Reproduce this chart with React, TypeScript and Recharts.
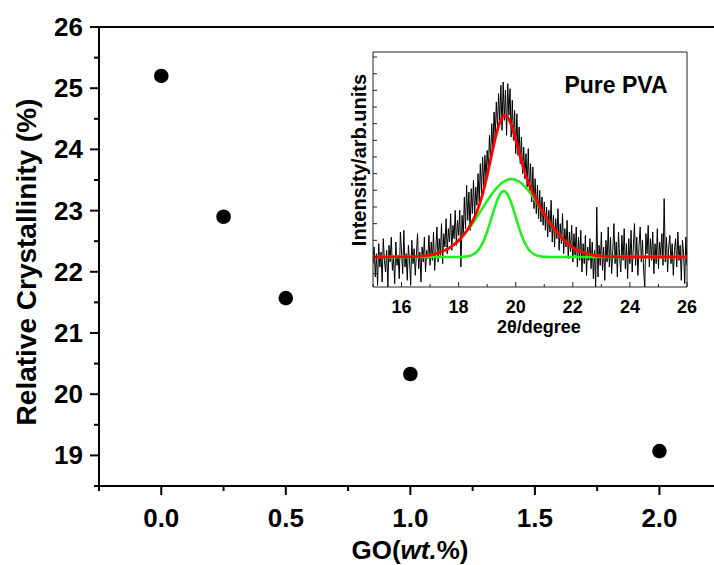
import React from "react";
import {
  ScatterChart,
  Scatter,
  LineChart,
  Line,
  XAxis,
  YAxis,
  ReferenceLine,
} from "recharts";

const FONT = "'Liberation Sans', Arial, Helvetica, sans-serif";

// main plot: relative crystallinity vs GO loading
const goContent = [0, 0.25, 0.5, 1.0, 2.0];
const relCrystallinity = [25.2, 22.9, 21.57, 20.33, 19.07];

const mainXTicks = [-0.25, 0, 0.25, 0.5, 0.75, 1, 1.25, 1.5, 1.75, 2, 2.25];
const mainYTicks = [
  18.5, 19, 19.5, 20, 20.5, 21, 21.5, 22, 22.5, 23, 23.5, 24, 24.5, 25, 25.5, 26,
];

// inset: XRD pattern of pure PVA with peak fit
const insetXTicks = [15, 16, 17, 18, 19, 20, 21, 22, 23, 24, 25, 26];
const insetYTicks = [-100, 0, 100, 200, 300, 400, 500, 600, 700, 800, 900, 1000, 1100, 1200];

const fitTheta = [
  15, 15.5, 16, 16.2, 16.4, 16.6, 16.8, 17, 17.2, 17.4, 17.6, 17.8, 18, 18.2, 18.4,
  18.6, 18.7, 18.8, 18.9, 19, 19.1, 19.2, 19.3, 19.4, 19.5, 19.6, 19.7, 19.8, 19.9,
  20, 20.1, 20.2, 20.3, 20.4, 20.5, 20.6, 20.8, 21, 21.2, 21.4, 21.6, 21.8, 22,
  22.2, 22.4, 22.6, 22.8, 23, 23.2, 23.4, 23.6, 24, 25, 26,
];
const fitBroad = [
  0, 0, 1, 1, 2, 4, 7, 12, 19, 31, 47, 69, 99, 136, 180,
  230, 256, 283, 310, 337, 362, 386, 407, 426, 442, 454, 462, 467, 467,
  462, 454, 442, 426, 407, 386, 362, 310, 256, 204, 157, 117, 83, 57,
  38, 25, 15, 9, 5, 3, 2, 1, 0, 0, 0,
];
const fitNarrow = [
  0, 0, 0, 0, 0, 0, 0, 0, 0, 0, 0, 0, 0, 2, 8,
  26, 44, 70, 107, 152, 206, 262, 316, 360, 388, 395, 379, 344, 296,
  240, 184, 133, 91, 59, 36, 21, 6, 1, 0, 0, 0, 0, 0,
  0, 0, 0, 0, 0, 0, 0, 0, 0, 0, 0,
];
const fitTotal = [
  0, 0, 1, 1, 2, 4, 7, 12, 19, 31, 47, 69, 99, 138, 188,
  256, 300, 353, 417, 489, 568, 648, 723, 786, 830, 849, 841, 811, 763,
  702, 638, 575, 517, 466, 422, 383, 316, 257, 204, 157, 117, 83, 57,
  38, 25, 15, 9, 5, 3, 2, 1, 0, 0, 0,
];

const XRD_START = 15;
const XRD_STEP = 0.04;
const xrdCounts = [
  // 15.00 - 15.96
  -40, 60, -120, 20, -170, 80, -60, 30, -150, 110, -20, -90, 40, -180, 70, -30, 120, -80, -10, -160, 90, -50, 10, -130, 150,
  // 16.00 - 16.96
  30, -100, 160, -60, 20, -140, 70, -20, -170, 100, -40, 50, -110, 10, 140, -70, 30, -150, 60, -30, 120, -90, 40, -10, 130,
  // 17.00 - 17.96
  -50, 90, -20, 150, -80, 40, 180, -30, 110, 10, 200, -40, 140, 60, 230, 20, 170, 90, 260, 40, 190, 110, 280, 70, 220,
  // 18.00 - 18.96
  130, 280, -60, 250, 120, 360, 170, 430, 220, 390, 160, 410, 260, 460, 240, 420, 310, 500, 330, 560, 380, 600, 420, 610, 470,
  // 19.00 - 19.96
  640, 520, 730, 590, 800, 640, 870, 720, 930, 780, 980, 810, 1030, 760, 1050, 820, 1000, 730, 1040, 850, 1010, 720, 940, 700, 880,
  // 20.00 - 20.96
  620, 860, 610, 780, 560, 720, 500, 660, 470, 620, 420, 650, 400, 560, 330, 540, 290, 470, 260, 430, 230, 400, 210, 360, 190,
  // 21.00 - 21.96
  330, 160, 300, 120, 280, 150, 340, 90, 250, 60, 230, 110, 290, 40, 200, 80, 260, 20, 170, 60, 220, -10, 150, 30, 190,
  // 22.00 - 22.96
  -30, 140, 10, 180, -60, 120, -20, 160, -90, 80, -40, 130, -110, 60, -20, 110, -70, 90, -130, 40, -180, 300, -120, 70, -50,
  // 23.00 - 23.96
  150, -80, 60, -140, 100, -30, 180, -60, 120, -100, 40, 200, -40, 90, -120, 150, 0, -90, 130, -20, 170, -70, 80, -130, 110,
  // 24.00 - 24.96
  -40, 160, -90, 60, 200, -50, 120, -110, 70, 180, -30, 100, -80, -180, 140, 20, 190, -60, 110, -20, 150, -100, 80, -40, 170,
  // 25.00 - 26.00
  -70, 90, 10, 140, -50, 350, -30, 120, -90, 60, 130, -40, 80, -110, 40, 110, -60, 150, -20, 70, -140, 100, 30, -160, 120, -50,
];

const mainData = goContent.map((go, i) => ({ go, rc: relCrystallinity[i] }));
const xrdData = xrdCounts.map((c, i) => ({
  theta: +(XRD_START + i * XRD_STEP).toFixed(2),
  counts: c,
}));
const fitData = fitTheta.map((t, i) => ({
  theta: t,
  broad: fitBroad[i],
  narrow: fitNarrow[i],
  total: fitTotal[i],
}));

const isMajor = (v: number, step: number) =>
  Math.abs(v / step - Math.round(v / step)) < 1e-6;

function MainXTick(props: any) {
  const { x, y, payload } = props;
  const major = isMajor(payload.value, 0.5);
  return (
    <g>
      <line x1={x} x2={x} y1={y} y2={y + (major ? 9 : 5)} stroke="#000" strokeWidth={2} />
      {major && (
        <text x={x} y={y + 41} textAnchor="middle" fontFamily={FONT} fontWeight={700} fontSize={26} fill="#000">
          {payload.value.toFixed(1)}
        </text>
      )}
    </g>
  );
}

function MainYTick(props: any) {
  const { x, y, payload } = props;
  const major = isMajor(payload.value, 1);
  return (
    <g>
      <line x1={x} x2={x - (major ? 9 : 5)} y1={y} y2={y} stroke="#000" strokeWidth={2} />
      {major && (
        <text x={x - 16} y={y + 9} textAnchor="end" fontFamily={FONT} fontWeight={700} fontSize={26} fill="#000">
          {payload.value}
        </text>
      )}
    </g>
  );
}

function InsetXTick(props: any) {
  const { x, y, payload } = props;
  const major = isMajor(payload.value, 2);
  return (
    <g>
      <line x1={x} x2={x} y1={y} y2={y - (major ? 5 : 3)} stroke="#222" strokeWidth={1} />
      {major && payload.value > 15 && (
        <text x={x} y={y + 26} textAnchor="middle" fontFamily={FONT} fontWeight={700} fontSize={18} fill="#000">
          {payload.value}
        </text>
      )}
    </g>
  );
}

function InsetYTick(props: any) {
  const { x, y } = props;
  return <line x1={x} x2={x + 4} y1={y} y2={y} stroke="#222" strokeWidth={1} />;
}

export default function App() {
  return (
    <div
      style={{
        position: "absolute",
        left: 0,
        top: 0,
        width: 714,
        height: 565,
        overflow: "hidden",
        background: "#fff",
      }}
    >
      <div style={{ position: "absolute", left: 0, top: 0 }}>
        <ScatterChart width={800} height={565} margin={{ top: 27, right: 16, bottom: 0, left: 0 }}>
          <XAxis
            type="number"
            dataKey="go"
            domain={[-0.25, 2.5]}
            ticks={mainXTicks}
            interval={0}
            height={79}
            tickSize={0}
            tickMargin={0}
            tickLine={false}
            tick={<MainXTick />}
            axisLine={{ stroke: "#000", strokeWidth: 2 }}
            allowDataOverflow
          />
          <YAxis
            type="number"
            dataKey="rc"
            domain={[18.5, 26]}
            ticks={mainYTicks}
            interval={0}
            width={99}
            tickSize={0}
            tickMargin={0}
            tickLine={false}
            tick={<MainYTick />}
            axisLine={{ stroke: "#000", strokeWidth: 2 }}
            allowDataOverflow
          />
          <ReferenceLine y={26} stroke="#000" strokeWidth={2} ifOverflow="visible" />
          <Scatter
            data={mainData}
            fill="#000"
            isAnimationActive={false}
            shape={(p: any) => <circle cx={p.cx} cy={p.cy} r={7.3} fill="#000" />}
          />
        </ScatterChart>
      </div>

      <div style={{ position: "absolute", left: 0, top: 0 }}>
        <LineChart width={714} height={565} margin={{ top: 52, right: 27, bottom: 247, left: 363 }}>
          <XAxis
            type="number"
            dataKey="theta"
            domain={[15, 26]}
            ticks={insetXTicks}
            interval={0}
            height={31}
            tickSize={0}
            tickMargin={0}
            tickLine={false}
            tick={<InsetXTick />}
            axisLine={{ stroke: "#222", strokeWidth: 1 }}
            allowDataOverflow
          />
          <YAxis
            type="number"
            domain={[-180, 1230]}
            ticks={insetYTicks}
            interval={0}
            width={10}
            tickSize={0}
            tickMargin={0}
            tickLine={false}
            tick={<InsetYTick />}
            axisLine={{ stroke: "#222", strokeWidth: 1 }}
            allowDataOverflow
          />
          <ReferenceLine y={1230} stroke="#222" strokeWidth={1} ifOverflow="visible" />
          <ReferenceLine x={26} stroke="#222" strokeWidth={1} ifOverflow="visible" />
          <Line
            data={xrdData}
            dataKey="counts"
            type="linear"
            stroke="#000"
            strokeWidth={1}
            dot={false}
            isAnimationActive={false}
          />
          <Line
            data={fitData}
            dataKey="broad"
            type="monotone"
            stroke="#22ee22"
            strokeWidth={2.6}
            dot={false}
            isAnimationActive={false}
          />
          <Line
            data={fitData}
            dataKey="narrow"
            type="monotone"
            stroke="#22ee22"
            strokeWidth={2.6}
            dot={false}
            isAnimationActive={false}
          />
          <Line
            data={fitData}
            dataKey="total"
            type="monotone"
            stroke="#ff0000"
            strokeWidth={2.8}
            dot={false}
            isAnimationActive={false}
          />
        </LineChart>
      </div>

      <svg
        width={714}
        height={565}
        style={{ position: "absolute", left: 0, top: 0, pointerEvents: "none" }}
      >
        <text
          transform="translate(36, 262) rotate(-90)"
          textAnchor="middle"
          fontFamily={FONT}
          fontWeight={700}
          fontSize={28}
          fill="#000"
        >
          Relative Crystallinity (%)
        </text>
        <text x={410} y={559} textAnchor="middle" fontFamily={FONT} fontWeight={700} fontSize={26} fill="#000">
          <tspan>GO(</tspan>
          <tspan fontStyle="italic">wt.</tspan>
          <tspan>%)</tspan>
        </text>
        <text
          transform="translate(366, 160) rotate(-90)"
          textAnchor="middle"
          fontFamily={FONT}
          fontWeight={700}
          fontSize={20}
          fill="#000"
        >
          Intensity/arb.units
        </text>
        <text x={539} y={333} textAnchor="middle" fontFamily={FONT} fontWeight={700} fontSize={18} fill="#000">
          2θ/degree
        </text>
        <text x={616} y={93} textAnchor="middle" fontFamily={FONT} fontWeight={700} fontSize={23} fill="#000">
          Pure PVA
        </text>
      </svg>
    </div>
  );
}
